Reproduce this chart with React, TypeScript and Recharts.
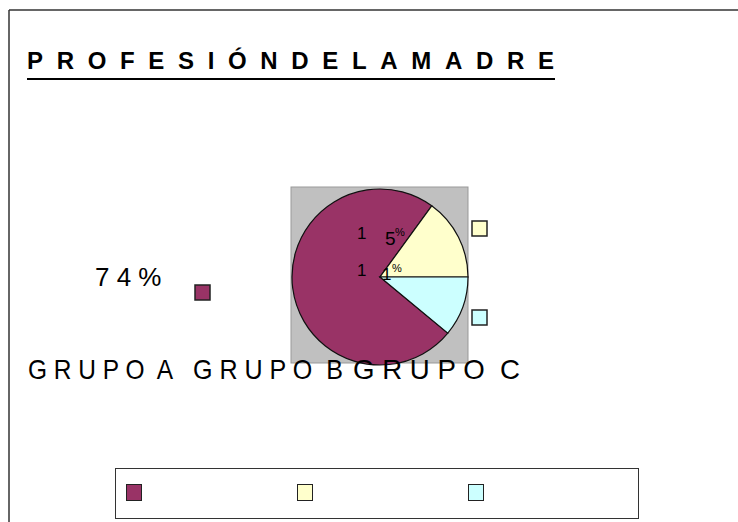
import { Cell, Legend, Pie, PieChart } from 'recharts'

const groups = ['GRUPO A', 'GRUPO B', 'GRUPO C']
const percents = [74, 15, 11]
const colors = ['#993366', '#FFFFCC', '#CCFFFF']
const title = 'PROFESIÓNDELAMADRE'

const chartData = groups.map((name, i) => ({ name, value: percents[i] }))

const spaced = (s: string) => s.split(' ').map((w) => w.split('').join(' ')).join('  ')
const font = '"Liberation Sans", Arial, sans-serif'

// where each category name sits in the row under the pie
const groupLabelX = [28, 193, 353]
const groupLabelW = [145, 150, 167]

function LegendBox(props: any) {
  const payload = props.payload || []
  return (
    <div
      style={{
        width: 524,
        height: 51,
        border: '1.5px solid #333',
        boxSizing: 'border-box',
        position: 'relative',
        background: '#fff',
      }}
    >
      {payload.map((p: any, i: number) => (
        <div
          key={i}
          style={{
            position: 'absolute',
            left: 9.5 + i * 171,
            top: 14.5,
            width: 14,
            height: 15,
            background: p.color,
            border: '1.5px solid #222',
          }}
        />
      ))}
    </div>
  )
}

function App() {
  const bDigits = String(percents[1]).split('')
  const cDigits = String(percents[2]).split('')
  return (
    <div style={{ position: 'absolute', left: 0, top: 0, width: 738, height: 522, background: '#fff', fontFamily: font }}>
      {/* frame and grey plot area */}
      <svg width={738} height={522} style={{ position: 'absolute', left: 0, top: 0 }}>
        <line x1={9} y1={10} x2={738} y2={10} stroke="#333" strokeWidth={1.5} />
        <line x1={9} y1={10} x2={9} y2={522} stroke="#333" strokeWidth={1.5} />
        <rect x={291} y={187} width={177} height={176} fill="#C0C0C0" stroke="#999" strokeWidth={1} />
      </svg>

      <div style={{ position: 'absolute', left: 0, top: 0 }}>
        <PieChart width={738} height={522} margin={{ top: 0, right: 0, bottom: 0, left: 0 }}>
          <Pie
            data={chartData}
            dataKey="value"
            nameKey="name"
            cx={380}
            cy={277}
            outerRadius={88}
            startAngle={320.4}
            endAngle={-39.6}
            stroke="#111"
            strokeWidth={1.2}
            isAnimationActive={false}
            label={false}
            labelLine={false}
          >
            {chartData.map((d, i) => (
              <Cell key={d.name} fill={colors[i]} />
            ))}
          </Pie>
          <Legend
            content={<LegendBox />}
            wrapperStyle={{ position: 'absolute', left: 115, top: 468, width: 524, height: 51, bottom: 'auto' }}
          />
        </PieChart>
      </div>

      {/* texts and keys on top */}
      <svg width={738} height={522} style={{ position: 'absolute', left: 0, top: 0, pointerEvents: 'none' }} fontFamily={font}>
        <text x={27} y={69} fontSize={24} fontWeight="bold" textLength={527} lengthAdjust="spacing" fill="#000">
          {title}
        </text>
        <line x1={27} y1={79} x2={555} y2={79} stroke="#000" strokeWidth={2} />

        <text x={357} y={239} fontSize={17}>{bDigits[0]}</text>
        <text x={385} y={245} fontSize={19}>{bDigits[1]}</text>
        <text x={395} y={236} fontSize={11}>%</text>
        <text x={357} y={276} fontSize={17}>{cDigits[0]}</text>
        <text x={382} y={280} fontSize={17}>{cDigits[1]}</text>
        <text x={392} y={272} fontSize={11}>%</text>

        <text x={95} y={286} fontSize={26}>{`${percents[0]}%`.split('').join(' ')}</text>
        <rect x={195} y={285} width={15} height={15} fill={colors[0]} stroke="#222" strokeWidth={1.5} />
        <rect x={472} y={221} width={15} height={15} fill={colors[1]} stroke="#222" strokeWidth={1.5} />
        <rect x={472} y={310} width={15} height={15} fill={colors[2]} stroke="#222" strokeWidth={1.5} />

        {groups.map((g, i) => (
          <text
            key={g}
            x={groupLabelX[i]}
            y={379}
            fontSize={28}
            textLength={groupLabelW[i]}
            lengthAdjust="spacingAndGlyphs"
            style={{ whiteSpace: 'pre' }}
          >
            {spaced(g)}
          </text>
        ))}
      </svg>
    </div>
  )
}

export default App
